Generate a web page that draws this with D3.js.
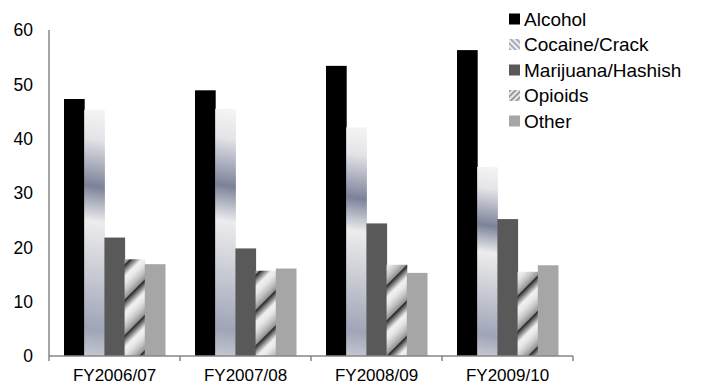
<!DOCTYPE html>
<html>
<head>
<meta charset="utf-8">
<script src="https://cdn.jsdelivr.net/npm/d3@7"></script>
<style>
  html, body { margin: 0; padding: 0; background: #fff; }
  svg { display: block; font-family: "Liberation Sans", Arial, sans-serif; }
</style>
</head>
<body>
<svg id="chart" width="701" height="385"></svg>
<script>
const categories = ["FY2006/07", "FY2007/08", "FY2008/09", "FY2009/10"];
const seriesNames = ["Alcohol", "Cocaine/Crack", "Marijuana/Hashish", "Opioids", "Other"];
const alcohol   = [47.3, 48.9, 53.4, 56.3];
const cocaine   = [45.3, 45.5, 42.1, 34.8];
const marijuana = [21.8, 19.8, 24.4, 25.2];
const opioids   = [17.8, 15.7, 16.8, 15.5];
const other     = [16.9, 16.1, 15.3, 16.7];
const yTicks = [0, 10, 20, 30, 40, 50, 60];

(function () {
const values = [alcohol, cocaine, marijuana, opioids, other];
const data = seriesNames.map((s, i) => categories.map((c, j) => ({ series: s, si: i, cat: c, ci: j, v: values[i][j] })));

const svg = d3.select("#chart");
const defs = svg.append("defs");
const plotLeft = 49, plotRight = 573, plotTop = 30, plotBottom = 356;

const x = d3.scaleBand().domain(categories).range([plotLeft, plotRight]).padding(0);
const inner = d3.scaleBand().domain(seriesNames).range([15, x.bandwidth() - 15]).padding(0);
const y = d3.scaleLinear().domain([0, 60]).range([plotBottom, plotTop]);

const opGrad = defs.append("linearGradient").attr("id", "opGrad")
  .attr("x1", 0).attr("y1", 0).attr("x2", 1).attr("y2", 0);
[[0, "#1a1a1a"], [0.12, "#6a6a6a"], [0.35, "#f2f2f2"], [0.55, "#e6e6e6"], [0.8, "#bdbdbd"], [1, "#8c8c8c"]]
  .forEach(([o, c]) => opGrad.append("stop").attr("offset", o).attr("stop-color", c));
const opPat = defs.append("pattern").attr("id", "opPat")
  .attr("patternUnits", "userSpaceOnUse").attr("width", 25).attr("height", 10)
  .attr("patternTransform", "rotate(45)");
opPat.append("rect").attr("width", 25).attr("height", 10).attr("fill", "url(#opGrad)");

const opPatSmall = defs.append("pattern").attr("id", "opPatSmall")
  .attr("patternUnits", "userSpaceOnUse").attr("width", 4).attr("height", 4)
  .attr("patternTransform", "rotate(45)");
opPatSmall.append("rect").attr("width", 4).attr("height", 4).attr("fill", "#e8e8e8");
opPatSmall.append("rect").attr("width", 2).attr("height", 4).attr("fill", "#9a9a9a");

const coPatSmall = defs.append("pattern").attr("id", "coPatSmall")
  .attr("patternUnits", "userSpaceOnUse").attr("width", 4).attr("height", 4)
  .attr("patternTransform", "rotate(-45)");
coPatSmall.append("rect").attr("width", 4).attr("height", 4).attr("fill", "#eeeef2");
coPatSmall.append("rect").attr("width", 2).attr("height", 4).attr("fill", "#a7abbb");

const cocaineStops = [[0, "#f5f5f5"], [0.12, "#e4e4e8"], [0.31, "#7c8299"], [0.45, "#ececee"], [0.62, "#cfd1d8"], [0.88, "#9fa4b7"], [1, "#c9cbd4"]];

function fillFor(d) {
  if (d.si === 0) return "#000000";
  if (d.si === 2) return "#595959";
  if (d.si === 4) return "#a6a6a6";
  if (d.si === 3) return "url(#opPat)";
  const id = "coGrad" + d.ci;
  const bx = x(d.cat) + inner(d.series);
  const y0 = y(d.v), h = plotBottom - y0;
  const g = defs.append("linearGradient").attr("id", id)
    .attr("gradientUnits", "userSpaceOnUse")
    .attr("x1", bx + inner.bandwidth()).attr("y1", y0)
    .attr("x2", bx + inner.bandwidth() - h * 0.15).attr("y2", plotBottom);
  cocaineStops.forEach(([o, c]) => g.append("stop").attr("offset", o).attr("stop-color", c));
  return "url(#" + id + ")";
}

const groups = svg.append("g").selectAll("g").data(data).join("g");
groups.selectAll("rect").data(d => d).join("rect")
  .attr("x", d => x(d.cat) + inner(d.series))
  .attr("y", d => y(d.v))
  .attr("width", inner.bandwidth() + 0.5)
  .attr("height", d => plotBottom - y(d.v))
  .attr("fill", d => fillFor(d));

const axisColor = "#868686";
svg.append("line").attr("x1", plotLeft).attr("x2", plotLeft).attr("y1", plotTop).attr("y2", plotBottom)
  .attr("stroke", axisColor).attr("stroke-width", 1.5);
svg.append("line").attr("x1", plotLeft).attr("x2", plotRight).attr("y1", plotBottom).attr("y2", plotBottom)
  .attr("stroke", axisColor).attr("stroke-width", 1.5);
const tickXs = categories.map(c => x(c)).concat([plotRight]);
svg.append("g").selectAll("line").data(tickXs).join("line")
  .attr("x1", d => d).attr("x2", d => d).attr("y1", plotBottom).attr("y2", plotBottom + 5)
  .attr("stroke", axisColor).attr("stroke-width", 1.5);

svg.append("g").selectAll("text").data(yTicks).join("text")
  .attr("x", 33).attr("y", d => y(d)).attr("dy", "0.36em")
  .attr("text-anchor", "end").attr("font-size", 17.5).attr("fill", "#000")
  .text(d => d);

svg.append("g").selectAll("text").data(categories).join("text")
  .attr("x", d => x(d) + x.bandwidth() / 2).attr("y", 381)
  .attr("text-anchor", "middle").attr("font-size", 17).attr("fill", "#000")
  .text(d => d);

const legendFills = ["#000000", "url(#coPatSmall)", "#595959", "url(#opPatSmall)", "#a6a6a6"];
const lg = svg.append("g").selectAll("g").data(seriesNames).join("g")
  .attr("transform", (d, i) => `translate(509, ${19 + i * 25.5})`);
lg.append("rect").attr("x", 0).attr("y", -5.5).attr("width", 11).attr("height", 11)
  .attr("fill", (d, i) => legendFills[i]);
lg.append("text").attr("x", 15).attr("y", 0).attr("dy", "0.36em")
  .attr("font-size", 19).attr("fill", "#000").text(d => d);
})();
</script>
</body>
</html>
